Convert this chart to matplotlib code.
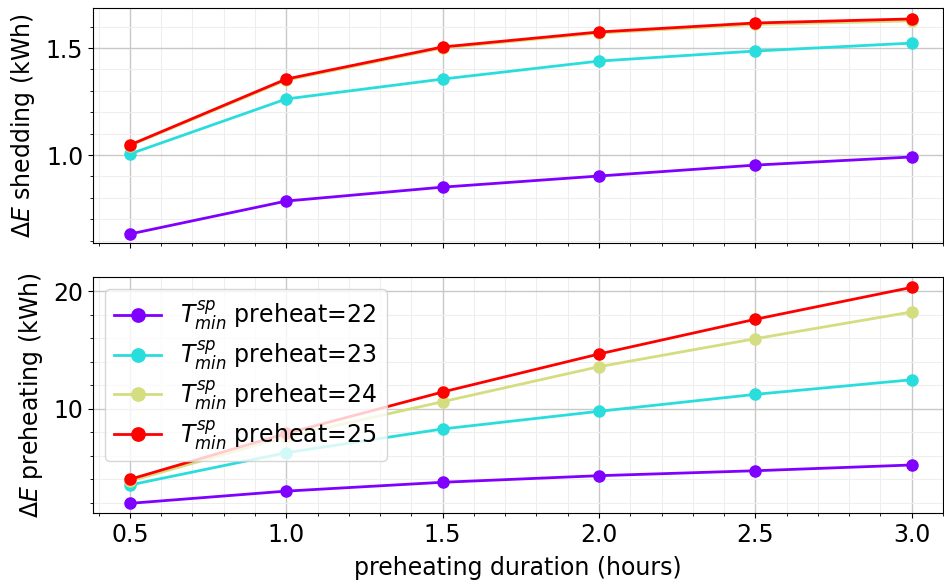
import numpy as np
import matplotlib.pyplot as plt
from matplotlib import cm

duration = [0.5, 1.0, 1.5, 2.0, 2.5, 3.0]
tmin = [22, 23, 24, 25]

# Delta E shedding (kWh), one list per preheat setpoint
shed_22 = [0.631, 0.785, 0.850, 0.902, 0.953, 0.991]
shed_23 = [1.005, 1.262, 1.355, 1.439, 1.486, 1.523]
shed_24 = [1.044, 1.350, 1.500, 1.570, 1.610, 1.627]
shed_25 = [1.047, 1.355, 1.505, 1.575, 1.617, 1.636]

# Delta E preheating (kWh)
pre_22 = [1.96, 3.00, 3.75, 4.31, 4.73, 5.22]
pre_23 = [3.52, 6.26, 8.28, 9.78, 11.22, 12.46]
pre_24 = [3.85, 7.62, 10.60, 13.57, 15.95, 18.22]
pre_25 = [4.00, 7.90, 11.42, 14.65, 17.60, 20.31]

shed = [shed_22, shed_23, shed_24, shed_25]
pre = [pre_22, pre_23, pre_24, pre_25]

plt.rcParams['font.size'] = 17
colors = cm.rainbow(np.linspace(0, 1, len(tmin)))

fig = plt.figure(figsize=(9.45, 5.83), dpi=100)
ax1 = fig.add_axes([93/945, 1-243/583, 850/945, 235/583])
ax2 = fig.add_axes([93/945, 1-513/583, 850/945, 236/583], sharex=ax1)

for i in range(len(tmin)):
    lab = r'$T^{sp}_{min}$ preheat=' + str(tmin[i])
    ax1.plot(duration, shed[i], '-o', color=colors[i], lw=2, ms=8, label=lab)
    ax2.plot(duration, pre[i], '-o', color=colors[i], lw=2, ms=8, label=lab)

for ax in [ax1, ax2]:
    ax.minorticks_on()
    ax.grid(which='major', color='#c8c8c8', lw=1)
    ax.grid(which='minor', color='#eeeeee', lw=0.8)
    ax.set_axisbelow(True)

ax1.set_xlim(0.382, 3.1)
ax1.set_ylim(0.589, 1.687)
ax2.set_ylim(1.14, 21.19)
ax1.set_yticks([1.0, 1.5])
ax2.set_yticks([10, 20])
plt.setp(ax1.get_xticklabels(), visible=False)

ax1.set_ylabel(r'$\Delta E$ shedding (kWh)', labelpad=6)
ax2.set_ylabel(r'$\Delta E$ preheating (kWh)', labelpad=6)
ax2.set_xlabel('preheating duration (hours)', labelpad=7)
ax2.legend(loc='upper left', labelspacing=0.25, markerscale=1.2)

fig.savefig('out.png', dpi=100)
